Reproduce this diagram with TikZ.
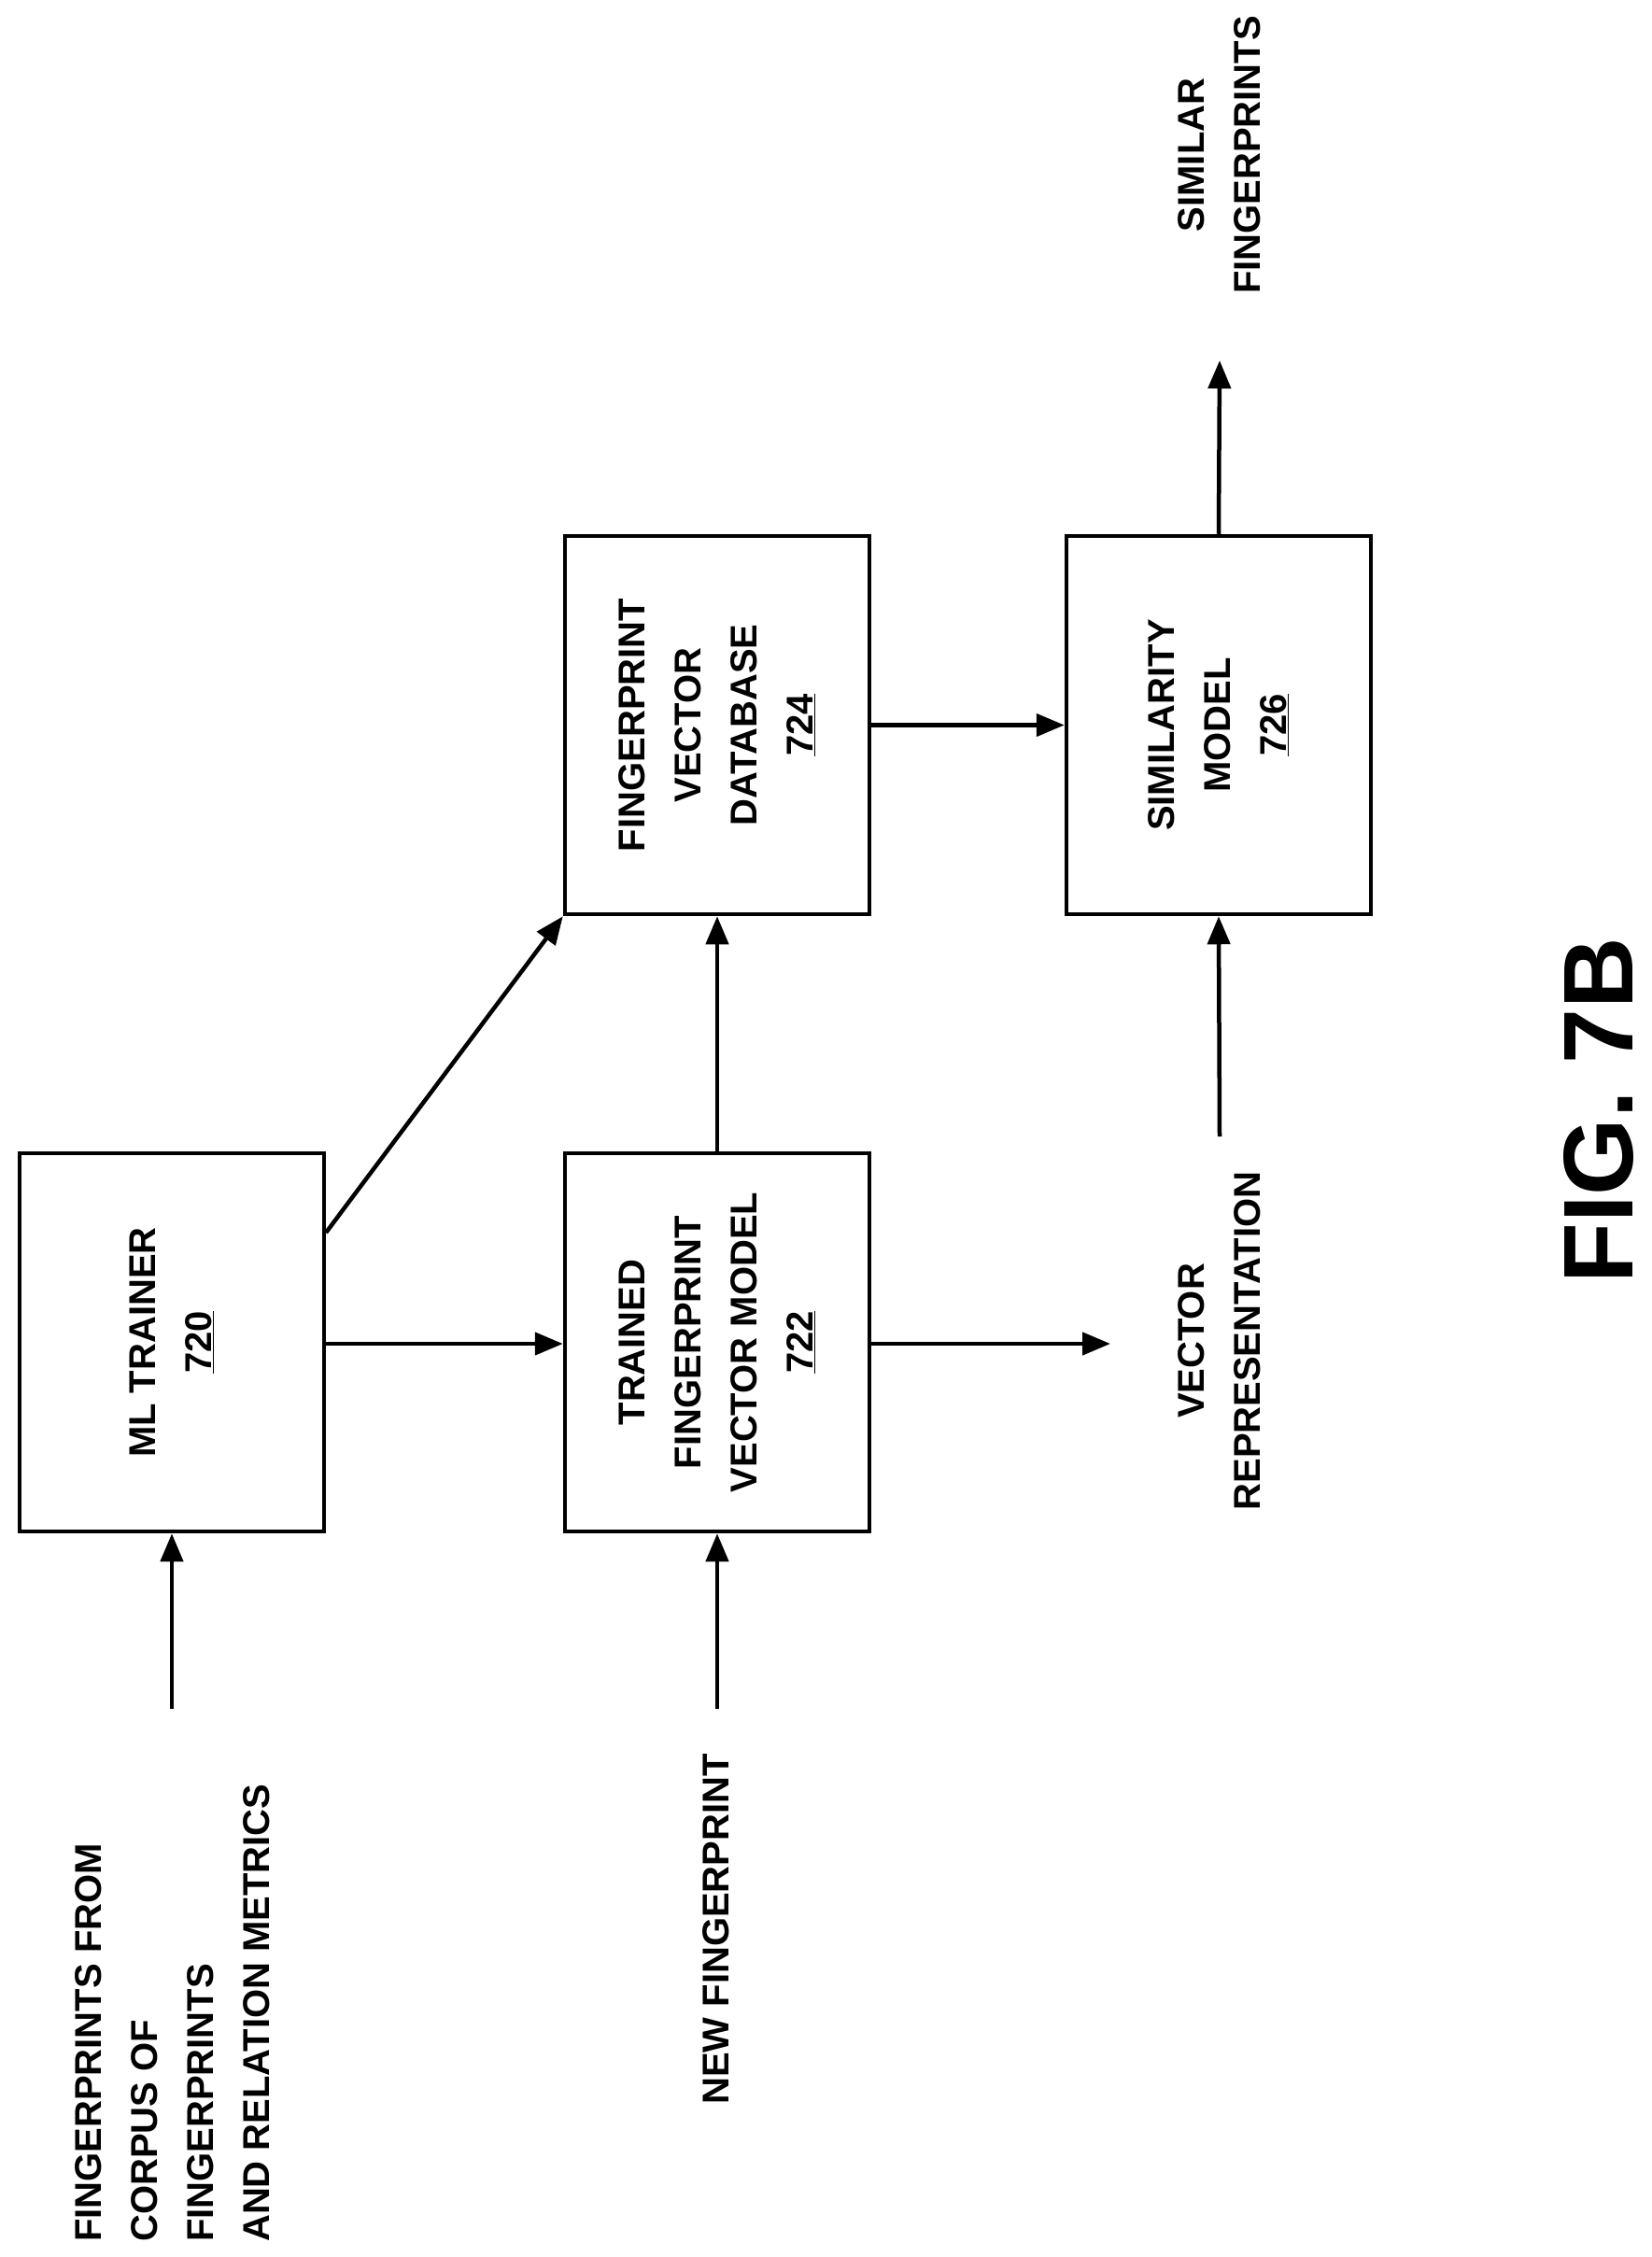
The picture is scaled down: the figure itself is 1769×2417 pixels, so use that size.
\documentclass[tikz,border=0pt]{standalone}
\usepackage{fontspec}
\setmainfont{Liberation Sans}
\usetikzlibrary{arrows.meta}
\begin{document}
\begin{tikzpicture}[x=1pt,y=-1pt,
  box/.style={draw,line width=4.5pt,inner sep=0pt},
  lbl/.style={font=\fontsize{40}{60}\selectfont\bfseries,rotate=90,inner sep=0pt},
  arr/.style={line width=4.5pt,-{Triangle[length=30pt,width=24pt]}}]
\useasboundingbox (0,0) rectangle (1769,2417);
\node[box,minimum width=326pt,minimum height=405pt] (ml) at (184,1437.5) {};
\node[box,minimum width=326pt,minimum height=405pt] (tfv) at (768,1437.5) {};
\node[box,minimum width=326pt,minimum height=405pt] (db) at (768,776.5) {};
\node[box,minimum width=326pt,minimum height=405pt] (sim) at (1305,776.5) {};
\node[lbl,align=center] at (ml) {ML TRAINER\\\underline{720}};
\node[lbl,align=center] at (tfv) {TRAINED\\FINGERPRINT\\VECTOR MODEL\\\underline{722}};
\node[lbl,align=center] at (db) {FINGERPRINT\\VECTOR\\DATABASE\\\underline{724}};
\node[lbl,align=center] at (sim) {SIMILARITY\\MODEL\\\underline{726}};
\node[lbl,align=left,anchor=west] (corp) at (185,2401) {FINGERPRINTS FROM\\CORPUS OF\\FINGERPRINTS\\AND RELATION METRICS};
\node[lbl,anchor=west] (nfp) at (767,2254) {NEW FINGERPRINT};
\node[lbl,align=center] (vr) at (1306,1436) {VECTOR\\REPRESENTATION};
\node[lbl,align=center] (sf) at (1306,166) {SIMILAR\\FINGERPRINTS};
\node[font=\fontsize{106}{120}\selectfont\bfseries,rotate=90,inner sep=0pt] (fig) at (1712,1189) {FIG. 7B};
\coordinate (c1) at (184,1830);
\coordinate (c2) at (768,1830);
\coordinate (c3) at (1189,1439);
\coordinate (c4) at (1306,1217);
\coordinate (c5) at (1306,386);
\coordinate (c6) at (349,1320);
\draw[arr] (c1) -- (ml.south);
\draw[arr] (ml.east |- 0,1439) -- (tfv.west |- 0,1439);
\draw[arr] (c6) -- (db.south west);
\draw[arr] (tfv.north) -- (db.south);
\draw[arr] (c2) -- (tfv.south);
\draw[arr] (tfv.east |- 0,1439) -- (c3);
\draw[arr] (db.east) -- (sim.west);
\draw[arr] (c4) -- (sim.south);
\draw[arr] (sim.north) -- (c5);
\end{tikzpicture}
\end{document}
